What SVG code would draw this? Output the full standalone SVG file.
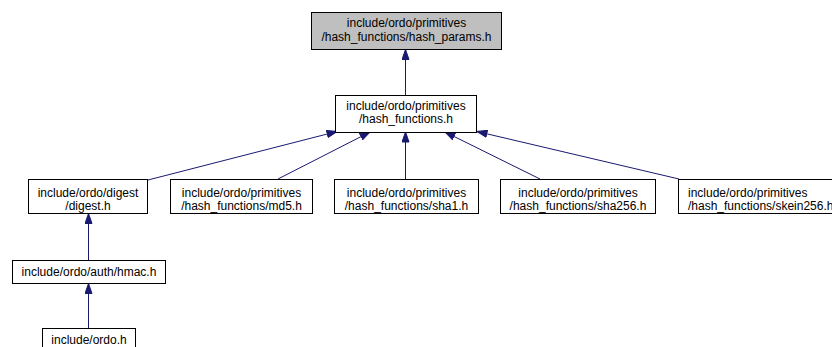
<svg xmlns="http://www.w3.org/2000/svg" width="832" height="347" viewBox="0 0 832 347">
  <style>
    .node rect { fill: #ffffff; stroke: #000000; stroke-width: 1; }
    .node.root rect { fill: #bfbfbf; stroke: #000000; }
    .node text { font-family: "Liberation Sans", Arial, Helvetica, sans-serif; font-size: 12px; fill: #000000; text-anchor: middle; }
    .edge { stroke: #191970; stroke-width: 1; fill: none; }
  </style>
  <defs>
    <marker id="arrow" markerUnits="userSpaceOnUse" markerWidth="11" markerHeight="8" refX="10.5" refY="4" orient="auto">
      <path d="M0.5,0.5 L10.5,4 L0.5,7.5 Z" fill="#191970" stroke="#191970" stroke-width="1"/>
    </marker>
  </defs>
  <rect width="832" height="347" fill="#ffffff"/>

  <!-- include dependencies -->
  <g id="edges">
    <line class="edge" x1="405.5" y1="95" x2="405.5" y2="49.5" marker-end="url(#arrow)"/>
    <line class="edge" x1="148" y1="180" x2="337" y2="131.5" marker-end="url(#arrow)"/>
    <line class="edge" x1="278" y1="179" x2="370" y2="132" marker-end="url(#arrow)"/>
    <line class="edge" x1="405.5" y1="179" x2="405.5" y2="132" marker-end="url(#arrow)"/>
    <line class="edge" x1="540" y1="179" x2="445" y2="132" marker-end="url(#arrow)"/>
    <line class="edge" x1="679" y1="179" x2="477" y2="131.5" marker-end="url(#arrow)"/>
    <line class="edge" x1="88.5" y1="260" x2="88.5" y2="213.5" marker-end="url(#arrow)"/>
    <line class="edge" x1="88.5" y1="328" x2="88.5" y2="283.5" marker-end="url(#arrow)"/>
  </g>

  <g id="hash_params" class="node root">
    <rect x="311.5" y="12.5" width="190" height="37"/>
    <text x="406.5" y="27">include/ordo/primitives</text>
    <text x="406.5" y="40.8">/hash_functions/hash_params.h</text>
  </g>

  <g id="hash_functions" class="node">
    <rect x="335.5" y="95.5" width="141" height="37"/>
    <text x="406" y="109.5">include/ordo/primitives</text>
    <text x="406" y="123.3">/hash_functions.h</text>
  </g>

  <g id="digest" class="node">
    <rect x="28.5" y="179.5" width="119" height="34"/>
    <text x="88" y="196.5">include/ordo/digest</text>
    <text x="88" y="210.3">/digest.h</text>
  </g>

  <g id="md5" class="node">
    <rect x="170.5" y="179.5" width="142" height="34"/>
    <text x="241.5" y="196.5">include/ordo/primitives</text>
    <text x="241.5" y="210.3">/hash_functions/md5.h</text>
  </g>

  <g id="sha1" class="node">
    <rect x="334.5" y="179.5" width="144" height="34"/>
    <text x="406.5" y="196.5">include/ordo/primitives</text>
    <text x="406.5" y="210.3">/hash_functions/sha1.h</text>
  </g>

  <g id="sha256" class="node">
    <rect x="500.5" y="179.5" width="155" height="34"/>
    <text x="578" y="196.5">include/ordo/primitives</text>
    <text x="578" y="210.3">/hash_functions/sha256.h</text>
  </g>

  <g id="skein256" class="node">
    <rect x="678.5" y="179.5" width="166" height="34"/>
    <text x="688" y="196.5" style="text-anchor:start">include/ordo/primitives</text>
    <text x="688" y="210.3" style="text-anchor:start">/hash_functions/skein256.h</text>
  </g>

  <g id="hmac" class="node">
    <rect x="12.5" y="260.5" width="153" height="23"/>
    <text x="89" y="275.5">include/ordo/auth/hmac.h</text>
  </g>

  <g id="ordo" class="node">
    <rect x="42.5" y="328.5" width="93" height="23"/>
    <text x="89" y="344">include/ordo.h</text>
  </g>
</svg>
